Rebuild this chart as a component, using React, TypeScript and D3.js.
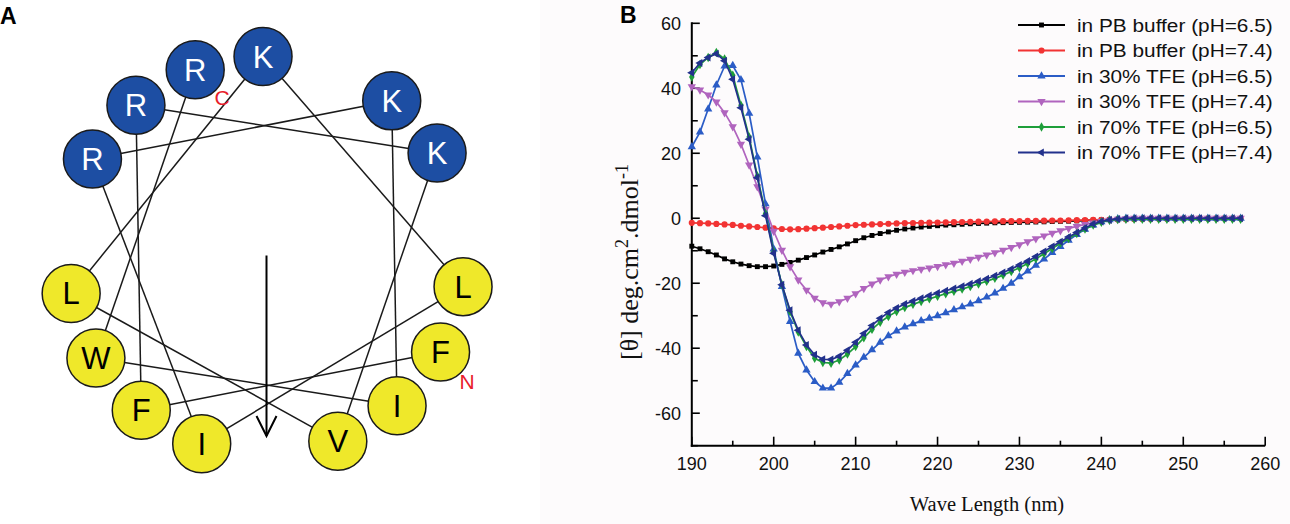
import React from 'react';
import * as d3 from 'd3';

// ---------- Panel A: helical wheel ----------
const residues = ["F", "F", "R", "K", "V", "L", "K", "L", "I", "R", "K", "I", "W", "R"];
const charged = ["R", "K"];
const wheelStartDeg = 29;
const wheelStepDeg = 100;

// ---------- Panel B: CD spectra ----------
const WL_START = 190;
const WL_END = 257;
const xTicks = [190, 200, 210, 220, 230, 240, 250, 260];
const yTicks = [-60, -40, -20, 0, 20, 40, 60];

const pb65 = [
  -8.6, -9.4, -10.3, -11.3, -12.5, -13.4, -14.1, -14.6, -14.9, -14.9,
  -14.7, -14.2, -13.6, -12.9, -12.1, -11.3, -10.4, -9.6, -8.8, -7.9,
  -6.9, -6.0, -5.3, -4.7, -4.2, -3.7, -3.3, -3.0, -2.7, -2.5,
  -2.3, -2.1, -2.0, -1.85, -1.7, -1.6, -1.5, -1.4, -1.35, -1.3,
  -1.25, -1.2, -1.15, -1.1, -1.0, -0.95, -0.9, -0.8, -0.7, -0.6,
  -0.5, -0.4, -0.3, -0.25, -0.2, -0.15, -0.1, -0.1, -0.1, -0.1,
  -0.1, -0.1, -0.1, -0.1, -0.1, -0.1, -0.1, -0.1,
];
const pb74 = [
  -1.4, -1.5, -1.6, -1.75, -1.9, -2.05, -2.3, -2.5, -2.7, -2.9,
  -3.1, -3.3, -3.4, -3.35, -3.2, -3.05, -2.9, -2.7, -2.5, -2.3,
  -2.1, -2.0, -1.9, -1.8, -1.7, -1.6, -1.5, -1.45, -1.4, -1.35,
  -1.3, -1.25, -1.2, -1.15, -1.1, -1.05, -1.0, -0.95, -0.9, -0.9,
  -0.85, -0.8, -0.8, -0.75, -0.7, -0.7, -0.65, -0.6, -0.55, -0.5,
  -0.45, -0.4, -0.35, -0.3, -0.25, -0.2, -0.2, -0.15, -0.15, -0.1,
  -0.1, -0.1, -0.05, -0.05, 0, 0, 0, 0,
];
const tfe30_65 = [
  22.0, 26.5, 33.6, 41.0, 46.8, 47.0, 42.6, 32.3, 18.8, 4.4,
  -9.5, -21.0, -31.8, -41.6, -46.7, -50.3, -52.3, -52.3, -50.5, -47.8,
  -45.2, -42.8, -40.5, -38.2, -36.2, -34.7, -33.5, -32.5, -31.6, -30.8,
  -30.0, -29.1, -28.2, -27.3, -26.4, -25.4, -24.3, -23.0, -21.6, -20.0,
  -18.0, -16.3, -14.5, -12.6, -10.6, -8.7, -6.8, -5.0, -3.4, -2.1,
  -1.1, -0.5, -0.2, 0, 0, 0, 0, 0, 0, 0,
  0, 0, 0, 0, 0, 0, 0, 0,
];
const tfe30_74 = [
  40.5, 39.5, 38.0, 35.8, 32.5, 28.2, 22.8, 16.4, 9.7, 2.8,
  -4.0, -9.8, -14.9, -19.0, -22.1, -24.6, -26.0, -26.4, -25.7, -24.6,
  -23.2, -21.6, -20.2, -19.0, -18.0, -17.2, -16.6, -16.1, -15.7, -15.3,
  -14.8, -14.3, -13.8, -13.2, -12.6, -12.0, -11.3, -10.6, -9.8, -9.0,
  -8.1, -7.2, -6.3, -5.4, -4.6, -3.8, -3.1, -2.5, -1.9, -1.4,
  -1.0, -0.6, -0.3, -0.1, 0, 0, 0, 0, 0, 0,
  0, 0, 0, 0, 0, 0, 0, 0,
];
const tfe70_65 = [
  43.5, 47.3, 49.5, 51.0, 49.0, 44.0, 34.8, 25.0, 13.0, 1.5,
  -10.3, -20.5, -28.8, -35.0, -39.5, -43.1, -44.4, -44.6, -43.6, -41.8,
  -39.5, -36.8, -34.2, -32.0, -30.2, -28.7, -27.5, -26.5, -25.6, -24.8,
  -24.0, -23.2, -22.5, -21.8, -21.0, -20.2, -19.4, -18.5, -17.5, -16.4,
  -15.2, -13.9, -12.5, -10.9, -9.3, -7.7, -6.2, -4.7, -3.3, -2.1,
  -1.2, -0.6, -0.4, -0.3, -0.3, -0.3, -0.3, -0.3, -0.3, -0.3,
  -0.3, -0.3, -0.3, -0.3, -0.3, -0.3, -0.3, -0.3,
];
const tfe70_74 = [
  44.8, 47.8, 49.5, 50.6, 48.5, 42.8, 34.0, 24.3, 12.5, 0.8,
  -10.8, -20.5, -28.3, -34.5, -39.0, -42.0, -43.4, -43.5, -42.5, -40.6,
  -38.2, -35.5, -33.0, -30.8, -29.0, -27.6, -26.4, -25.5, -24.6, -23.8,
  -23.0, -22.3, -21.6, -20.9, -20.2, -19.4, -18.6, -17.7, -16.7, -15.6,
  -14.4, -13.2, -11.8, -10.2, -8.7, -7.2, -5.8, -4.4, -3.0, -1.8,
  -1.0, -0.5, -0.2, 0, 0, 0, 0, 0, 0, 0,
  0, 0, 0, 0, 0, 0, 0, 0,
];

const seriesNames = [
  "in PB buffer (pH=6.5)",
  "in PB buffer (pH=7.4)",
  "in 30% TFE (pH=6.5)",
  "in 30% TFE (pH=7.4)",
  "in 70% TFE (pH=6.5)",
  "in 70% TFE (pH=7.4)",
];
const seriesValues = [pb65, pb74, tfe30_65, tfe30_74, tfe70_65, tfe70_74];
const seriesColors = ["#000000", "#f23333", "#2b5cc6", "#b064be", "#1e9e3a", "#22318c"];
const seriesSymbols = ["square", "circle", "triUp", "triDown", "diamond", "triLeft"];

const SANS = "'Liberation Sans', Arial, Helvetica, sans-serif";
const SERIF = "'Liberation Serif', 'Times New Roman', serif";

function symbolPath(kind: string): { d: string; rot: number } {
  switch (kind) {
    case "square":
      return { d: d3.symbol().type(d3.symbolSquare).size(24)() as string, rot: 0 };
    case "circle":
      return { d: d3.symbol().type(d3.symbolCircle).size(30)() as string, rot: 0 };
    case "triUp":
      return { d: d3.symbol().type(d3.symbolTriangle).size(30)() as string, rot: 0 };
    case "triDown":
      return { d: d3.symbol().type(d3.symbolTriangle).size(30)() as string, rot: 180 };
    case "diamond":
      return { d: d3.symbol().type(d3.symbolDiamond).size(26)() as string, rot: 0 };
    case "triLeft":
      return { d: d3.symbol().type(d3.symbolTriangle).size(28)() as string, rot: -90 };
    default:
      return { d: d3.symbol().size(24)() as string, rot: 0 };
  }
}

function HelicalWheel() {
  const cx = 266.5;
  const cy = 255.5;
  const R = 199;
  const rc = 29;
  const angle = d3.scaleLinear().domain([0, 1]).range([wheelStartDeg, wheelStartDeg + wheelStepDeg]);
  const pts = residues.map((res, i) => {
    const a = (angle(i) * Math.PI) / 180;
    return { res, x: cx + R * Math.cos(a), y: cy + R * Math.sin(a) };
  });
  const links = d3.pairs(pts);
  const arrowTop = cy;
  const arrowBottom = 436;
  return (
    <g>
      {links.map(([a, b], i) => (
        <line key={"l" + i} x1={a.x} y1={a.y} x2={b.x} y2={b.y} stroke="#1a1a1a" strokeWidth={1.5} />
      ))}
      <line x1={cx} y1={arrowTop} x2={cx} y2={arrowBottom} stroke="#000" strokeWidth={2} />
      <polyline
        points={`${cx - 10},${arrowBottom - 20} ${cx},${arrowBottom} ${cx + 10},${arrowBottom - 20}`}
        fill="none"
        stroke="#000"
        strokeWidth={2}
      />
      {pts.map((p, i) => {
        const isCharged = charged.includes(p.res);
        return (
          <g key={"c" + i}>
            <circle cx={p.x} cy={p.y} r={rc} fill={isCharged ? "#1d4ea3" : "#efe82a"} stroke="#1a1a1a" strokeWidth={1.5} />
            <text
              x={p.x}
              y={p.y + 11}
              textAnchor="middle"
              fontFamily={SANS}
              fontSize={31}
              fill={isCharged ? "#ffffff" : "#000000"}
            >
              {p.res}
            </text>
          </g>
        );
      })}
      <text x={222} y={104.5} textAnchor="middle" fontFamily={SANS} fontSize={21} fill="#e8202a">C</text>
      <text x={467} y={388.5} textAnchor="middle" fontFamily={SANS} fontSize={21} fill="#e8202a">N</text>
    </g>
  );
}

function CDChart() {
  const x = d3.scaleLinear().domain([190, 260]).range([691.8, 1265.2]);
  const y = d3.scaleLinear().domain([-70, 60]).range([445.7, 23.3]);
  const wl = d3.range(WL_START, WL_END + 1);
  const line = d3
    .line<number>()
    .x((_, i) => x(wl[i]))
    .y((v) => y(v));
  const yMinor = d3.range(-70, 61, 10);
  const xMinor = d3.range(190, 261, 5);
  const x0 = x(190);
  const yBase = y(-70);

  const legendX0 = 1018;
  const legendX1 = 1065;
  const legendTextX = 1077;
  const legendY0 = 25;
  const legendDy = 25.5;

  return (
    <g>
      {/* axes */}
      <line x1={x0} y1={y(60) - 1} x2={x0} y2={yBase + 1} stroke="#000" strokeWidth={2} />
      <line x1={x0 - 1} y1={yBase} x2={x(260)} y2={yBase} stroke="#000" strokeWidth={2} />
      {yMinor.map((t) => (
        <line key={"yt" + t} x1={x0} x2={x0 + (t % 20 === 0 ? 8 : 6)} y1={y(t)} y2={y(t)} stroke="#000" strokeWidth={1.6} />
      ))}
      {xMinor.map((t) => (
        <line key={"xt" + t} x1={x(t)} x2={x(t)} y1={yBase} y2={yBase - (t % 10 === 0 ? 9 : 5)} stroke="#000" strokeWidth={1.6} />
      ))}
      {yTicks.map((t) => (
        <text key={"yl" + t} x={681} y={y(t) + 6.4} textAnchor="end" fontFamily={SANS} fontSize={18} fill="#111">
          {t}
        </text>
      ))}
      {xTicks.map((t) => (
        <text key={"xl" + t} x={x(t)} y={470} textAnchor="middle" fontFamily={SANS} fontSize={18} fill="#111">
          {t}
        </text>
      ))}
      <text x={987} y={511} textAnchor="middle" fontFamily={SERIF} fontSize={20.5} fill="#111">
        Wave Length (nm)
      </text>
      <text transform="translate(638,262) rotate(-90)" textAnchor="middle" fontFamily={SERIF} fontSize={26} fill="#111">
        [θ] deg.cm<tspan dy={-10} fontSize={18}>2</tspan>
        <tspan dy={10}>.dmol</tspan>
        <tspan dy={-10} fontSize={18}>-1</tspan>
      </text>

      {/* series */}
      {seriesValues.map((vals, si) => {
        const sym = symbolPath(seriesSymbols[si]);
        return (
          <g key={"s" + si}>
            <path d={line(vals) as string} fill="none" stroke={seriesColors[si]} strokeWidth={1.7} />
            {vals.map((v, i) => (
              <path
                key={i}
                d={sym.d}
                transform={`translate(${x(wl[i])},${y(v)}) rotate(${sym.rot})`}
                fill={seriesColors[si]}
              />
            ))}
          </g>
        );
      })}

      {/* legend */}
      {seriesNames.map((name, si) => {
        const ly = legendY0 + si * legendDy;
        const sym = symbolPath(seriesSymbols[si]);
        return (
          <g key={"lg" + si}>
            <line x1={legendX0} x2={legendX1} y1={ly} y2={ly} stroke={seriesColors[si]} strokeWidth={1.8} />
            <path d={sym.d} transform={`translate(${(legendX0 + legendX1) / 2},${ly}) rotate(${sym.rot})`} fill={seriesColors[si]} />
            <text
              transform={`translate(${legendTextX},${ly + 6.6}) scale(1.125,1)`}
              fontFamily={SANS}
              fontSize={18.5}
              fill="#111"
            >
              {name}
            </text>
          </g>
        );
      })}
    </g>
  );
}

export default function App() {
  return (
    <div style={{ position: "absolute", left: 0, top: 0, width: 1290, height: 524 }}>
      <svg width={1290} height={524} viewBox="0 0 1290 524" style={{ display: "block" }}>
        <rect x={0} y={0} width={1290} height={524} fill="#ffffff" />
        <rect x={540} y={0} width={750} height={524} fill="#fdfbfc" />
        <text x={0} y={23.5} fontFamily={SANS} fontWeight="bold" fontSize={23} fill="#000">A</text>
        <text x={620} y={23} fontFamily={SANS} fontWeight="bold" fontSize={23} fill="#000">B</text>
        <HelicalWheel />
        <CDChart />
      </svg>
    </div>
  );
}
